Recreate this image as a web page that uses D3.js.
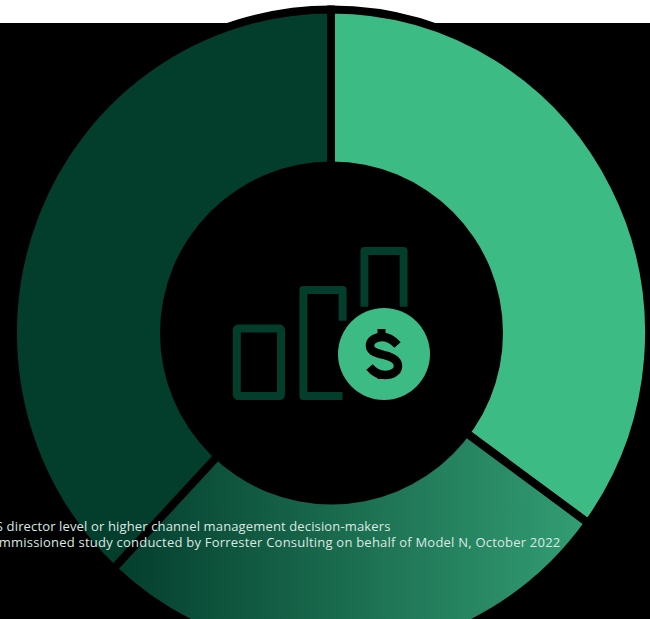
<!DOCTYPE html>
<html>
<head>
<meta charset="utf-8">
<script src="https://cdn.jsdelivr.net/npm/d3@7"></script>
<style>
  html, body { margin: 0; padding: 0; background: #fff; overflow: hidden; }
  svg { display: block; }
</style>
</head>
<body>
<script>
const categories = ["Segment A", "Segment B", "Segment C"];
const seriesValues = [35, 27, 38];
const footnotes = [
  "US director level or higher channel management decision-makers",
  "commissioned study conducted by Forrester Consulting on behalf of Model N, October 2022"
];

const width = 650, height = 619;
const cx = 331, cy = 333;
const radiusY = 323.5, innerRadius = 171.5;
const squeezeX = 0.983;
const darkGreen = "#033D2C", brightGreen = "#3DBB85";

const svg = d3.select("body").append("svg")
  .attr("width", width).attr("height", height);

const defs = svg.append("defs");
const grad = defs.append("linearGradient").attr("id", "midSlice");
grad.append("stop").attr("offset", "0%").attr("stop-color", darkGreen);
grad.append("stop").attr("offset", "100%").attr("stop-color", "#339E74");

// Black panel below the white strip at the top
svg.append("rect").attr("x", 0).attr("y", 23)
  .attr("width", width).attr("height", height - 23).attr("fill", "#000");

// Donut: slices with black outlines, hole painted over them
const pie = d3.pie().sort(null).value(d => d);
const arc = d3.arc().innerRadius(0).outerRadius(radiusY);
const fills = d3.scaleOrdinal().domain(categories)
  .range([brightGreen, "url(#midSlice)", darkGreen]);

const donut = svg.append("g")
  .attr("transform", `translate(${cx},${cy}) scale(${squeezeX},1)`);
donut.selectAll("path").data(pie(seriesValues)).join("path")
  .attr("d", arc)
  .attr("fill", (d, i) => fills(categories[i]))
  .attr("stroke", "#000").attr("stroke-width", 8)
  .attr("stroke-linejoin", "miter");

svg.append("circle").attr("cx", cx + 0.5).attr("cy", cy)
  .attr("r", innerRadius).attr("fill", "#000");

// Centre icon: three outlined bars and a dollar coin
const icon = svg.append("g").attr("fill", "none")
  .attr("stroke", darkGreen).attr("stroke-width", 8);
icon.append("rect").attr("x", 236.8).attr("y", 328.4)
  .attr("width", 44.2).attr("height", 67.6).attr("rx", 1.5);
icon.append("path").attr("stroke-linejoin", "round")
  .attr("d", "M342.5,396H303.4V290H342.6V320.7");
icon.append("path").attr("stroke-linejoin", "round")
  .attr("d", "M364.4,306.7V251H403.6V306.7");

svg.append("circle").attr("cx", 384).attr("cy", 354).attr("r", 46)
  .attr("fill", brightGreen);
svg.append("path")
  .attr("fill", "none").attr("stroke", "#000").attr("stroke-width", 8.5)
  .attr("d", "M397.5,345C393,340 388,337 382.5,337C375,337 370,340.5 370,345.5C370,351.5 376,353 384,355C392.5,357 398,360 398,366C398,371.5 392.5,375 385,375C379,375 374,372.5 369.5,367");
svg.append("path")
  .attr("fill", "none").attr("stroke", "#000").attr("stroke-width", 8)
  .attr("d", "M381.5,329V335M381.5,373V379");

// Footnote lines, cut off by the left edge
svg.append("g").selectAll("text").data(footnotes).join("text")
  .attr("x", (d, i) => [390.5, 560.5][i])
  .attr("y", (d, i) => [531, 547][i])
  .attr("text-anchor", "end")
  .attr("font-family", "'Open Sans', sans-serif")
  .attr("font-size", 13)
  .attr("letter-spacing", (d, i) => [0.14, 0.22][i])
  .attr("fill", "#DCE8E3")
  .text(d => d);
</script>
</body>
</html>
